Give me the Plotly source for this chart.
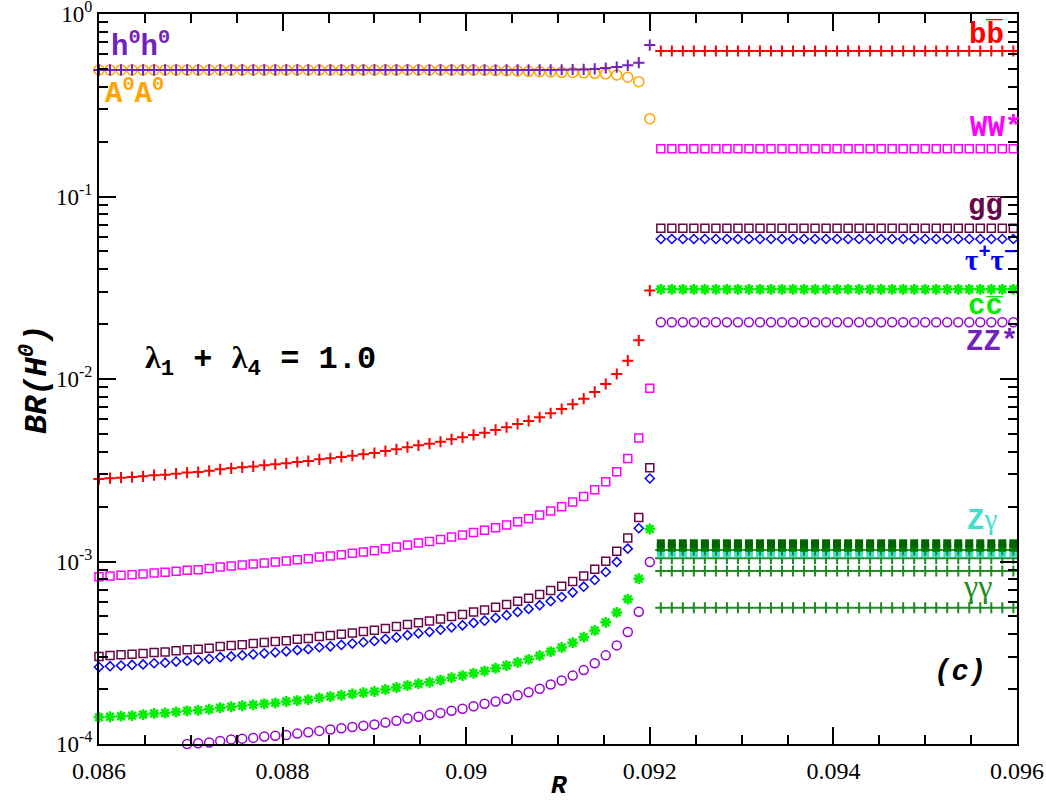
import plotly.graph_objects as go

# R grid below and above the threshold
r_low = [0.08600, 0.08612, 0.08624, 0.08636, 0.08648, 0.08660, 0.08672, 0.08684, 0.08696, 0.08708,
         0.08720, 0.08732, 0.08744, 0.08756, 0.08768, 0.08780, 0.08792, 0.08804, 0.08816, 0.08828,
         0.08840, 0.08852, 0.08864, 0.08876, 0.08888, 0.08900, 0.08912, 0.08924, 0.08936, 0.08948,
         0.08960, 0.08972, 0.08984, 0.08996, 0.09008, 0.09020, 0.09032, 0.09044, 0.09056, 0.09068,
         0.09080, 0.09092, 0.09104, 0.09116, 0.09128, 0.09140, 0.09152, 0.09164, 0.09176, 0.09188,
         0.09200]
r_high = [0.09212, 0.09224, 0.09236, 0.09248, 0.09260, 0.09272, 0.09284, 0.09296, 0.09308, 0.09320,
          0.09332, 0.09344, 0.09356, 0.09368, 0.09380, 0.09392, 0.09404, 0.09416, 0.09428, 0.09440,
          0.09452, 0.09464, 0.09476, 0.09488, 0.09500, 0.09512, 0.09524, 0.09536, 0.09548, 0.09560,
          0.09572, 0.09584, 0.09596]

bb_low = [2.83e-3, 2.86e-3, 2.88e-3, 2.90e-3, 2.93e-3, 2.97e-3, 2.99e-3, 3.03e-3, 3.07e-3, 3.09e-3,
          3.14e-3, 3.20e-3, 3.24e-3, 3.28e-3, 3.32e-3, 3.37e-3, 3.41e-3, 3.45e-3, 3.51e-3, 3.55e-3,
          3.63e-3, 3.68e-3, 3.74e-3, 3.80e-3, 3.87e-3, 3.93e-3, 4.03e-3, 4.12e-3, 4.23e-3, 4.33e-3,
          4.42e-3, 4.53e-3, 4.67e-3, 4.79e-3, 4.94e-3, 5.08e-3, 5.26e-3, 5.44e-3, 5.67e-3, 5.89e-3,
          6.17e-3, 6.49e-3, 6.85e-3, 7.27e-3, 7.80e-3, 8.49e-3, 9.39e-3, 1.065e-2, 1.26e-2, 1.63e-2,
          3.05e-2]
ww_low = [8.25e-4, 8.34e-4, 8.40e-4, 8.45e-4, 8.54e-4, 8.66e-4, 8.72e-4, 8.83e-4, 8.95e-4, 9.01e-4,
          9.15e-4, 9.33e-4, 9.44e-4, 9.56e-4, 9.68e-4, 9.82e-4, 9.94e-4, 1.006e-3, 1.023e-3, 1.035e-3,
          1.058e-3, 1.073e-3, 1.090e-3, 1.108e-3, 1.128e-3, 1.146e-3, 1.175e-3, 1.201e-3, 1.233e-3, 1.262e-3,
          1.288e-3, 1.320e-3, 1.361e-3, 1.396e-3, 1.440e-3, 1.481e-3, 1.533e-3, 1.586e-3, 1.653e-3, 1.717e-3,
          1.799e-3, 1.892e-3, 1.997e-3, 2.119e-3, 2.274e-3, 2.475e-3, 2.737e-3, 3.104e-3, 3.673e-3, 4.751e-3,
          8.89e-3]
gg_low = [3.02e-4, 3.05e-4, 3.08e-4, 3.10e-4, 3.13e-4, 3.17e-4, 3.19e-4, 3.24e-4, 3.28e-4, 3.30e-4,
          3.35e-4, 3.42e-4, 3.46e-4, 3.50e-4, 3.55e-4, 3.60e-4, 3.64e-4, 3.68e-4, 3.75e-4, 3.79e-4,
          3.88e-4, 3.93e-4, 3.99e-4, 4.06e-4, 4.13e-4, 4.20e-4, 4.30e-4, 4.40e-4, 4.52e-4, 4.62e-4,
          4.72e-4, 4.84e-4, 4.99e-4, 5.12e-4, 5.28e-4, 5.43e-4, 5.62e-4, 5.81e-4, 6.06e-4, 6.29e-4,
          6.59e-4, 6.93e-4, 7.32e-4, 7.76e-4, 8.33e-4, 9.07e-4, 1.003e-3, 1.137e-3, 1.346e-3, 1.741e-3,
          3.26e-3]
tau_low = [2.64e-4, 2.67e-4, 2.69e-4, 2.71e-4, 2.73e-4, 2.77e-4, 2.79e-4, 2.83e-4, 2.86e-4, 2.88e-4,
           2.93e-4, 2.99e-4, 3.02e-4, 3.06e-4, 3.10e-4, 3.14e-4, 3.18e-4, 3.22e-4, 3.27e-4, 3.31e-4,
           3.39e-4, 3.43e-4, 3.49e-4, 3.55e-4, 3.61e-4, 3.67e-4, 3.76e-4, 3.84e-4, 3.95e-4, 4.04e-4,
           4.12e-4, 4.23e-4, 4.36e-4, 4.47e-4, 4.61e-4, 4.74e-4, 4.91e-4, 5.08e-4, 5.29e-4, 5.50e-4,
           5.76e-4, 6.06e-4, 6.39e-4, 6.78e-4, 7.28e-4, 7.92e-4, 8.76e-4, 9.94e-4, 1.176e-3, 1.521e-3,
           2.85e-3]
cc_low = [1.40e-4, 1.41e-4, 1.42e-4, 1.43e-4, 1.45e-4, 1.47e-4, 1.48e-4, 1.50e-4, 1.52e-4, 1.53e-4,
          1.55e-4, 1.58e-4, 1.60e-4, 1.62e-4, 1.64e-4, 1.66e-4, 1.68e-4, 1.71e-4, 1.73e-4, 1.75e-4,
          1.79e-4, 1.82e-4, 1.85e-4, 1.88e-4, 1.91e-4, 1.94e-4, 1.99e-4, 2.04e-4, 2.09e-4, 2.14e-4,
          2.18e-4, 2.24e-4, 2.31e-4, 2.37e-4, 2.44e-4, 2.51e-4, 2.60e-4, 2.69e-4, 2.80e-4, 2.91e-4,
          3.05e-4, 3.21e-4, 3.38e-4, 3.59e-4, 3.85e-4, 4.19e-4, 4.64e-4, 5.26e-4, 6.22e-4, 8.05e-4,
          1.507e-3]
# ZZ* only visible from the 9th point on
zz_low = [1.00e-4, 1.01e-4, 1.02e-4, 1.04e-4, 1.06e-4, 1.07e-4, 1.08e-4, 1.10e-4, 1.11e-4, 1.12e-4,
          1.14e-4, 1.16e-4, 1.18e-4, 1.20e-4, 1.22e-4, 1.24e-4, 1.26e-4, 1.28e-4, 1.31e-4, 1.34e-4,
          1.38e-4, 1.41e-4, 1.44e-4, 1.48e-4, 1.52e-4, 1.56e-4, 1.61e-4, 1.66e-4, 1.71e-4, 1.77e-4,
          1.85e-4, 1.92e-4, 2.01e-4, 2.12e-4, 2.23e-4, 2.37e-4, 2.54e-4, 2.77e-4, 3.06e-4, 3.47e-4,
          4.11e-4, 5.31e-4, 9.94e-4]
hh_low = [0.494] * 42 + [0.495, 0.496, 0.497, 0.500, 0.506, 0.512, 0.523, 0.541, 0.676]
aa_low = [0.494] * 34 + [0.493, 0.492, 0.491, 0.489, 0.487, 0.485, 0.483, 0.481, 0.479, 0.478,
                         0.476, 0.473, 0.470, 0.463, 0.450, 0.426, 0.267]

n = len(r_high)
bb_high = [0.627] * n
ww_high = [0.1828] * n
gg_high = [0.0670] * n
tau_high = [0.0585] * n
cc_high = [0.0310] * n
zz_high = [0.02045] * n
gaga_high = [1.258e-3] * n
gaga2_high = [1.190e-3] * n
zga_high = [1.109e-3] * n
other1_high = [1.156e-3] * n
other2_high = [1.041e-3] * n
other3_high = [8.87e-4] * n
other4_high = [5.58e-4] * n

fig = go.Figure()


def add(x, y, symbol, color, size=9, width=1.5):
    fig.add_trace(go.Scatter(
        x=x, y=y, mode="markers", cliponaxis=False, showlegend=False,
        marker=dict(symbol=symbol, size=size, color=color,
                    line=dict(color=color, width=width))))


add(r_low, aa_low, "circle-open", "#FFA500", size=10)
add(r_low, hh_low, "cross-thin-open", "#7221BC", size=8, width=2)
add(r_low + r_high, bb_low + bb_high, "cross-thin-open", "#FF0000", size=8, width=2)
add(r_low + r_high, ww_low + ww_high, "square-open", "#FF00FF", size=8)
add(r_low + r_high, gg_low + gg_high, "square-open", "#670748", size=8)
add(r_low + r_high, tau_low + tau_high, "diamond-open", "#0000FF", size=7)
add(r_low + r_high, cc_low + cc_high, "asterisk-open", "#00EE00", size=9, width=2.5)
add(r_low[8:] + r_high, zz_low + zz_high, "circle-open", "#9400D3", size=9)
add(r_high, other2_high, "cross-thin-open", "#1E8B1E", size=8, width=2)
add(r_high, zga_high, "square", "#40E0D0", size=8, width=0)
add(r_high, other1_high, "cross-thin-open", "#1E8B1E", size=8, width=2)
add(r_high, gaga2_high, "square", "#007A00", size=8, width=0)
add(r_high, gaga_high, "square", "#006400", size=8, width=0)
add(r_high, other3_high, "cross-thin-open", "#1E8B1E", size=8, width=2)
add(r_high, other4_high, "cross-thin-open", "#1E8B1E", size=8, width=2)

mono = "Liberation Mono"
greek = "<span style='font-family:Liberation Serif'>%s</span>"


def label(px, py, text, color, size=29, angle=0):
    fig.add_annotation(x=(px - 99) / 918, y=(744 - py) / 730, xref="paper", yref="paper",
                       text=text, showarrow=False, xanchor="center", yanchor="middle",
                       textangle=angle, font=dict(family=mono, size=size, color=color))


label(986, 35, "<b>bb\u0305</b>", "#FF0000")
label(996, 128, "<b>WW*</b>", "#FF00FF")
label(986, 206, "<b>gg\u0305</b>", "#670748")
label(990, 258, "<b>" + greek % "τ" + "<sup>+</sup>" + greek % "τ" + "<sup>−</sup></b>", "#0000FF")
label(985, 306, "<b>cc\u0305</b>", "#00EE00")
label(992, 342, "<b>ZZ*</b>", "#7221BC")
label(982, 520, "<b>Z</b>" + greek % "γ", "#40E0D0")
label(977, 586, greek % "γγ", "#1E8B1E", size=32)
label(960, 672, "<b><i>(c)</i></b>", "#000000")
label(140, 45, "<b>h<sup>0</sup>h<sup>0</sup></b>", "#7221BC")
label(134, 92, "<b>A<sup>0</sup>A<sup>0</sup></b>", "#FFA500")
label(260, 360, "<b>" + greek % "λ" + "<sub>1</sub> + " + greek % "λ" + "<sub>4</sub> = 1.0</b>",
      "#000000", size=32)
# axis titles
label(559, 786, "<b><i>R</i></b>", "#000000", size=26)
label(35, 380, "<b><i>BR(H<sup>0</sup>)</i></b>", "#000000", size=32, angle=-90)

x_ticks = [0.086, 0.088, 0.090, 0.092, 0.094, 0.096]
x_text = ["0.086", "0.088", "0.09", "0.092", "0.094", "0.096"]
y_ticks = [1e-4, 1e-3, 1e-2, 1e-1, 1]
y_text = ["10<sup>-4</sup>", "10<sup>-3</sup>", "10<sup>-2</sup>", "10<sup>-1</sup>", "10<sup>0</sup>"]
y_minor = [m * 10.0 ** e for e in range(-4, 0) for m in range(2, 10)]

axis_style = dict(showgrid=False, zeroline=False, showline=True, linecolor="black", linewidth=2,
                  mirror="allticks", ticks="inside", ticklen=17, tickwidth=2, tickcolor="black",
                  automargin=False, ticklabeloverflow="allow")

fig.update_layout(
    width=1046, height=802,
    margin=dict(l=99, r=29, t=14, b=58),
    plot_bgcolor="white", paper_bgcolor="white",
    xaxis=dict(range=[0.086, 0.096], tickvals=x_ticks, ticktext=x_text,
               ticklabelstandoff=4,
               tickfont=dict(family="Liberation Serif", size=24, color="black"),
               minor=dict(ticks="inside", ticklen=9, tickwidth=2, tickcolor="black",
                          tick0=0.086, dtick=0.0005),
               **axis_style),
    yaxis=dict(type="log", range=[-4, 0], tickvals=y_ticks, ticktext=y_text,
               ticklabelstandoff=0,
               tickfont=dict(family="Liberation Serif", size=23, color="black"),
               minor=dict(ticks="inside", ticklen=9, tickwidth=2, tickcolor="black",
                          tickvals=y_minor),
               **axis_style),
)

# drop the default page margin so the figure sits at the window corner
fig.write_html("out.html", config={"displayModeBar": False},
               post_script="document.body.style.margin='0px';document.body.style.overflow='hidden';")
